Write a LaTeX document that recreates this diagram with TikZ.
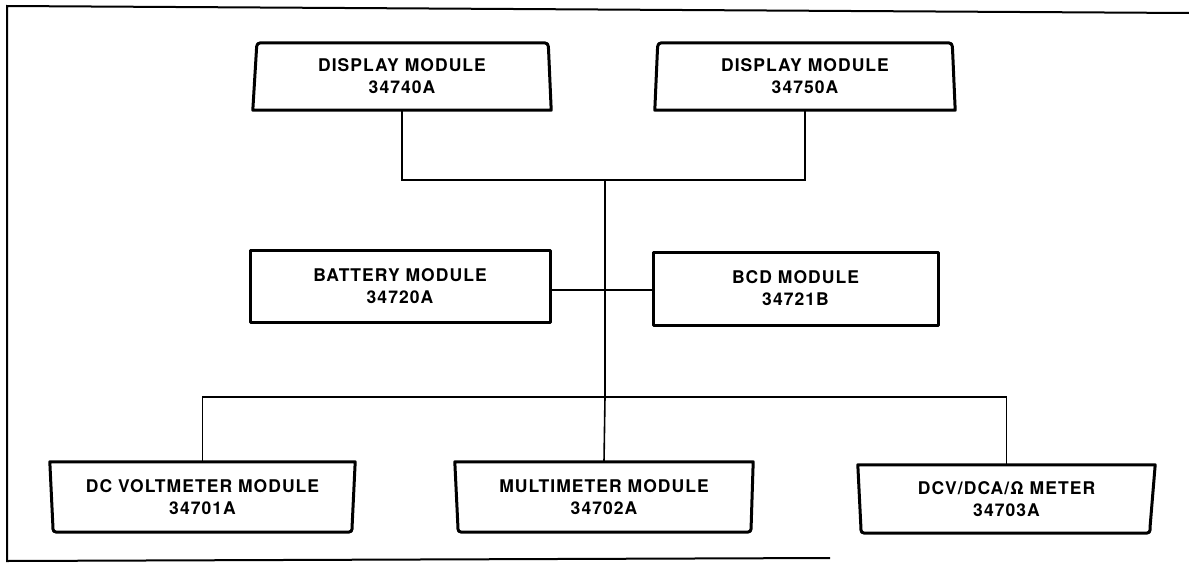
\documentclass[tikz,border=0pt]{standalone}
\usepackage{fontspec}
\setmainfont{TeX Gyre Heros}[LetterSpace=6]
\usetikzlibrary{calc}
\begin{document}
\begin{tikzpicture}[x=1pt,y=-1pt,
  boxline/.style={line width=3pt,line join=round},
  wire/.style={line width=1.6pt},
  frameline/.style={line width=2pt},
  modtext/.style={inner sep=0pt,align=center,font=\fontsize{17.5}{22}\selectfont\bfseries}]
\useasboundingbox (0,0) rectangle (1189,565);
% frame
\draw[frameline] (1189,13) -- (7,6) -- (7,561) -- (830,558);
% display modules
\node[modtext,minimum width=298pt,minimum height=67pt] (d1) at (402,76.5) {DISPLAY MODULE\\34740A};
\node[modtext,minimum width=300pt,minimum height=67pt] (d2) at (805,76.5) {DISPLAY MODULE\\34750A};
\foreach \n/\l/\r in {d1/4/3,d2/3/3}{
  \draw[boxline] (\n.south west) -- ($(\n.north west)+(\l-0.4,8)$) .. controls ($(\n.north west)+(\l,0)$) .. ($(\n.north west)+(\l+8,0)$)
    -- ($(\n.north east)+(-\r-8,0)$) .. controls ($(\n.north east)+(-\r,0)$) .. ($(\n.north east)+(-\r+0.4,8)$) -- (\n.south east) -- cycle;
}
% middle modules
\node[modtext,draw,boxline,minimum width=300pt,minimum height=72pt] (bat) at (400,286) {BATTERY MODULE\\34720A};
\node[modtext,draw,boxline,minimum width=285pt,minimum height=73pt] (bcd) at (795.5,288.5) {BCD MODULE\\34721B};
% bottom modules
\node[modtext,minimum width=305pt,minimum height=70pt] (dcv) at (202.5,497) {DC VOLTMETER MODULE\\34701A};
\node[modtext,minimum width=298pt,minimum height=70pt] (mm) at (604,497) {MULTIMETER MODULE\\34702A};
\node[modtext,minimum width=297pt,minimum height=68pt] (dca) at (1006.5,499) {DCV/DCA/Ω METER\\34703A};
\foreach \n/\l/\r in {dcv/3/3,mm/3/2,dca/3/5}{
  \draw[boxline] (\n.north west) -- ($(\n.south west)+(\l,-8)$) .. controls ($(\n.south west)+(\l,0)$) .. ($(\n.south west)+(\l+8,0)$)
    -- ($(\n.south east)+(-\r-8,0)$) .. controls ($(\n.south east)+(-\r,0)$) .. ($(\n.south east)+(-\r,-8)$) -- (\n.north east) -- cycle;
}
% connectors
\coordinate (top) at (605,180);
\coordinate (mid) at (605,290);
\coordinate (bot) at (605,397);
\draw[wire] (d1.south) |- (top) -| (d2.south);
\draw[wire] (top) -- (bot);
\draw[wire] (bat.east |- mid) -- (bcd.west |- mid);
\draw[wire] (dcv.north) |- (bot) -| (dca.north);
\draw[wire] (bot) -- (mm.north);
\end{tikzpicture}
\end{document}
